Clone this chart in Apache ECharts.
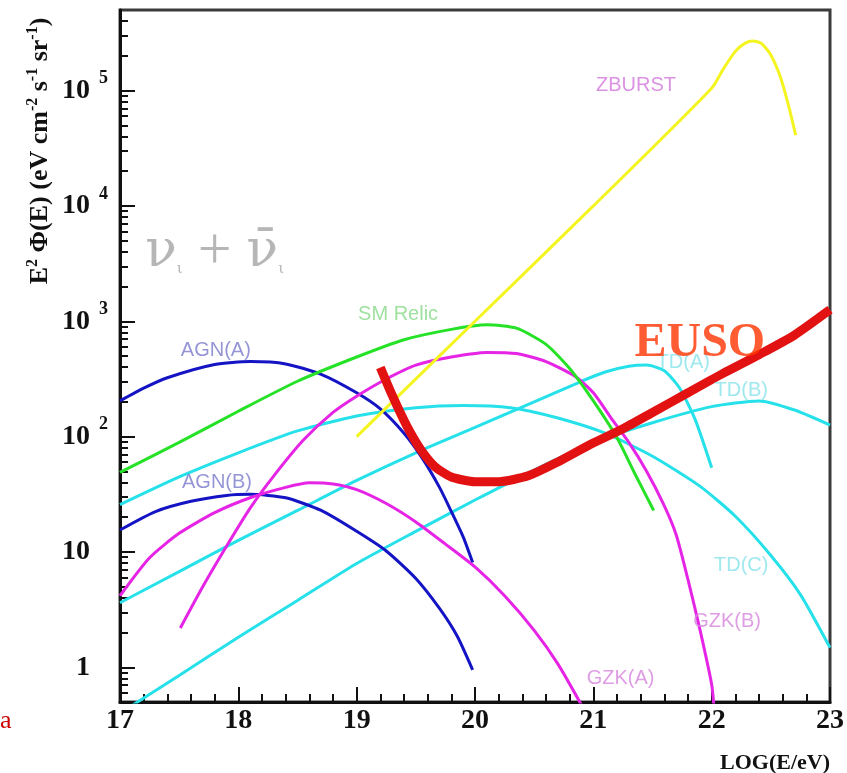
<!DOCTYPE html>
<html><head><meta charset="utf-8">
<script src="https://cdn.jsdelivr.net/npm/echarts@6/dist/echarts.min.js"></script>
<style>html,body{margin:0;padding:0;background:#fff}#c{width:847px;height:773px}</style>
</head><body><div id="c"></div>
<script>
// x = log10(E/eV), y = E^2 Phi(E) in eV cm^-2 s^-1 sr^-1
const agnA = [[17,204],[17.2,263],[17.4,324],[17.8,422],[18.1,447],[18.4,427],[18.7,347],[19.0,240],[19.2,174],[19.4,107],[19.55,66],[19.7,36.3],[19.8,22.4],[19.9,13.5],[19.98,8.1]];
const agnB = [[17,15.5],[17.3,22.4],[17.6,27.5],[17.9,30.9],[18.1,31.6],[18.4,29.5],[18.7,22.9],[19.0,15.1],[19.25,10.2],[19.5,5.89],[19.7,3.24],[19.85,1.86],[19.98,0.95]];
const smRelic = [[17,49],[17.5,89.1],[18,166],[18.5,302],[19,490],[19.4,692],[19.8,851],[20.1,933],[20.35,871],[20.6,631],[20.8,389],[21.0,204],[21.2,97.7],[21.35,47.9],[21.51,22.9]];
const zburst = [[19,100],[20,1000],[21,10000],[22,105000],[22.1,155000],[22.2,219000],[22.28,257000],[22.35,269000],[22.42,257000],[22.5,204000],[22.58,132000],[22.65,74000],[22.71,41000]];
const gzkA = [[17,4.17],[17.25,8.91],[17.5,14.5],[17.8,21.9],[18.1,29.5],[18.4,36.3],[18.6,39.8],[18.8,38.9],[19.0,34.7],[19.25,26.3],[19.5,18.2],[19.75,11.7],[20.0,7.41],[20.25,4.17],[20.5,2.09],[20.7,1.07],[20.9,0.47]];
const gzkB = [[17.51,2.19],[17.7,5.01],[17.9,11.2],[18.1,24.0],[18.3,45.7],[18.55,93.3],[18.8,162],[19.0,224],[19.25,316],[19.5,417],[19.8,490],[20.1,537],[20.35,525],[20.6,447],[20.85,331],[21.0,240],[21.15,145],[21.3,89.1],[21.45,50.1],[21.6,25.1],[21.7,14.1],[21.8,5.75],[21.9,2.14],[22.0,0.71],[22.02,0.45]];
const tdA = [[17,3.63],[17.5,6.76],[18,12.6],[18.5,22.9],[19,41.7],[19.5,72.4],[20,120],[20.5,200],[20.9,302],[21.1,363],[21.3,407],[21.45,417],[21.6,372],[21.73,263],[21.86,141],[22.0,53.7]];
const tdB = [[17,0.40],[17.5,0.85],[18,1.82],[18.5,3.80],[19,7.94],[19.5,15.1],[20,28.2],[20.5,51.3],[21,89.1],[21.5,132],[22,182],[22.4,204],[22.7,170],[23,126]];
const tdC = [[17,25.7],[17.5,44.7],[18,72.4],[18.5,112],[19,151],[19.5,178],[19.9,186],[20.3,178],[20.7,145],[21.1,107],[21.5,67.6],[21.9,37.2],[22.2,20.4],[22.5,9.33],[22.75,4.27],[23,1.48]];
const euso = [[19.2,398],[19.3,229],[19.42,126],[19.54,77.6],[19.66,55],[19.8,44.7],[20.0,40.7],[20.2,40.7],[20.45,45.7],[20.7,60.3],[20.97,85.1],[21.25,117],[21.5,162],[21.8,240],[22.1,355],[22.4,513],[22.7,759],[23,1259]];

const xTicks = [17,18,19,20,21,22,23];
const curveLabels = [
  {text:'ZBURST', at:[21.36,1.11e5], color:'#d277dc'},
  {text:'SM Relic', at:[19.35,1150], color:'#86d886'},
  {text:'AGN(A)', at:[17.81,560], color:'#7b7bcc'},
  {text:'AGN(B)', at:[17.82,40], color:'#7b7bcc'},
  {text:'TD(A)', at:[21.76,436], color:'#86e2ea'},
  {text:'TD(B)', at:[22.25,253], color:'#86e2ea'},
  {text:'TD(C)', at:[22.25,7.7], color:'#86e2ea'},
  {text:'GZK(B)', at:[22.13,2.5], color:'#d784dd'},
  {text:'GZK(A)', at:[21.23,0.8], color:'#d784dd'}
];

const SERIF = '"Liberation Serif","Times New Roman",serif';
const SANS = '"Liberation Sans",Arial,sans-serif';

// minor tick values of the log axis (2..9 x 10^n)
const minorVals = [];
for (let n = -1; n <= 5; n++) for (let k = 2; k <= 9; k++) {
  const v = k * Math.pow(10, n);
  if (v > 0.5 && v < 5e5) minorVals.push(v);
}

function line(name, data, color, width) {
  return {name, type:'line', data, smooth:0.22, showSymbol:false, symbol:'none', clip:true,
    lineStyle:{color, width}, silent:true, z:2};
}

const chart = echarts.init(document.getElementById('c'), null, {renderer:'canvas'});
chart.setOption({
  animation:false,
  backgroundColor:'#ffffff',
  grid:{left:120, right:17, top:10, bottom:71, show:true, borderColor:'#3a3a3a', borderWidth:3, backgroundColor:'transparent'},
  xAxis:{type:'value', min:17, max:23, interval:1,
    axisLine:{show:true, onZero:false, lineStyle:{color:'#111', width:3}},
    axisTick:{show:true, inside:true, length:15, lineStyle:{color:'#111', width:2}},
    minorTick:{show:true, splitNumber:5, length:8, lineStyle:{color:'#111', width:2}},
    splitLine:{show:false},
    axisLabel:{margin:5, color:'#111', fontFamily:SERIF, fontWeight:'bold', fontSize:28,
      formatter:v => xTicks.includes(v) ? String(v) : ''}
  },
  yAxis:[{type:'log', logBase:10, min:0.5, max:5e5,
    axisLine:{show:true, onZero:false, lineStyle:{color:'#111', width:3}},
    axisTick:{show:true, inside:true, length:15, lineStyle:{color:'#111', width:2}},
    splitLine:{show:false},
    axisLabel:{margin:12, showMinLabel:false, showMaxLabel:false,
      formatter:function(v){
        const e = Math.round(Math.log10(v));
        if (Math.abs(v - Math.pow(10,e)) > 1e-6 * v) return '';
        if (e === 0) return '{b|1}{s|}';
        if (e === 1) return '{b|10}{s|}';
        return '{b|10}{s|' + e + '}';
      },
      rich:{
        b:{fontFamily:SERIF, fontWeight:'bold', fontSize:28, color:'#111', lineHeight:42},
        s:{fontFamily:SERIF, fontWeight:'bold', fontSize:18, color:'#111', verticalAlign:'top', width:18, align:'right'}
      }
    }
  },{type:'log', logBase:10, min:0.5, max:5e5, position:'left', offset:0,
    axisLine:{show:false},
    axisTick:{show:true, inside:true, length:8, customValues:minorVals, lineStyle:{color:'#111', width:2}},
    axisLabel:{show:false},
    splitLine:{show:false}
  }],
  series:[
    line('TD(B)', tdB, '#27e1ea', 3),
    line('TD(C)', tdC, '#27e1ea', 3),
    line('TD(A)', tdA, '#27e1ea', 3),
    line('AGN(A)', agnA, '#1414c4', 3),
    line('AGN(B)', agnB, '#1414c4', 3),
    line('GZK(A)', gzkA, '#e624e6', 3),
    line('GZK(B)', gzkB, '#e624e6', 3),
    line('SM Relic', smRelic, '#26e226', 3),
    line('ZBURST', zburst, '#f4f420', 3),
    line('EUSO', euso, '#e31212', 9),
    {type:'scatter', symbolSize:0, silent:true, z:6,
      data: curveLabels.map(l => ({value:l.at, label:{show:true, position:'inside', formatter:l.text,
        color:l.color, fontFamily:SANS, fontSize:20}}))},
    {type:'scatter', symbolSize:0, silent:true, z:7,
      data:[{value:[21.90,645], label:{show:true, position:'inside', formatter:'EUSO',
        color:'#ff3300', fontFamily:SERIF, fontWeight:'bold', fontSize:48}}]},
    {type:'scatter', symbolSize:0, silent:true, z:6,
      data:[{value:[17.80,3960], label:{show:true, position:'inside',
        formatter:'{n|ν}{i|ι}{p| + }{n|ν\u0304}{i|ι}',
        rich:{
          n:{fontFamily:'"DejaVu Serif",serif', fontSize:52, color:'#a4a4a4', lineHeight:58},
          i:{fontFamily:'"DejaVu Serif",serif', fontSize:15, color:'#a4a4a4', verticalAlign:'bottom', padding:[0,0,6,0]},
          p:{fontFamily:SERIF, fontSize:60, color:'#a4a4a4'}
        }}}]}
  ],
  graphic:[
    {type:'text', x:40, y:151, rotation:Math.PI/2, silent:true,
      style:{text:'{b|E}{s|2}{b| Φ(E) (eV cm}{s|-2}{b| s}{s|-1}{b| sr}{s|-1}{b|)}',
        align:'center', verticalAlign:'middle',
        rich:{
          b:{fontFamily:SERIF, fontWeight:'bold', fontSize:26, fill:'#111', lineHeight:30},
          s:{fontFamily:SERIF, fontWeight:'bold', fontSize:16, fill:'#111', verticalAlign:'top'}
        }}},
    {type:'text', right:17, top:752, silent:true,
      style:{text:'LOG(E/eV)', font:'bold 22px ' + SERIF, fill:'#111'}},
    {type:'text', left:0, top:708, silent:true,
      style:{text:'a', font:'26px ' + SERIF, fill:'#cc0000'}}
  ]
});
</script></body></html>
